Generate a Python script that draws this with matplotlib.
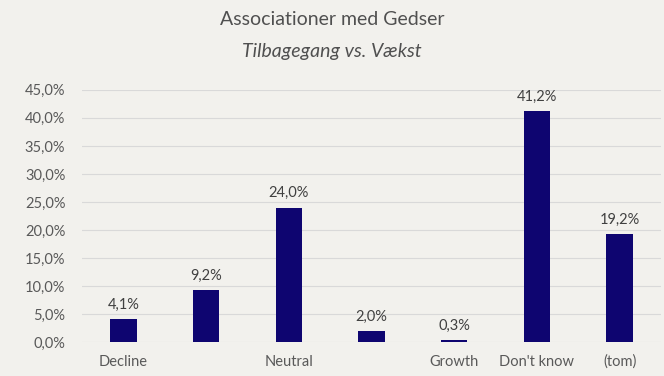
import matplotlib.pyplot as plt
from matplotlib.ticker import FuncFormatter

categories = ["Decline", "", "Neutral", "", "Growth", "Don't know", "(tom)"]
shares = [4.1, 9.2, 24.0, 2.0, 0.3, 41.2, 19.2]

BG = "#F2F1ED"
BAR = "#0E0570"
TXT = "#595959"

plt.rcParams["font.family"] = ["Lato", "DejaVu Sans"]

fig = plt.figure(figsize=(6.64, 3.76), dpi=100, facecolor=BG)
ax = fig.add_axes([0.1235, 0.0904, 0.872, 0.6706], facecolor=BG)

x = range(len(categories))
ax.bar(x, shares, width=0.32, color=BAR, zorder=3)

# value labels above bars
for xi, v in zip(x, shares):
    ax.text(xi, v + 1.3, f"{v:.1f}%".replace(".", ","), ha="center", va="bottom",
            fontsize=10.5, color="#404040")

ax.set_xlim(-0.5, len(categories) - 0.5)
ax.set_ylim(0, 45)
ax.set_yticks(range(0, 46, 5))
ax.yaxis.set_major_formatter(FuncFormatter(lambda v, _: f"{v:.1f}%".replace(".", ",")))
ax.set_xticks(list(x))
ax.set_xticklabels(categories)

ax.grid(axis="y", color="#D9D9D9", linewidth=0.8, zorder=0)
for s in ax.spines.values():
    s.set_visible(False)
ax.tick_params(axis="both", length=0, colors=TXT, labelsize=10.5)
ax.tick_params(axis="x", pad=9)
ax.tick_params(axis="y", pad=12)

fig.text(0.5, 0.947, "Associationer med Gedser", ha="center", va="center",
         fontsize=14, color="#505050")
fig.text(0.5, 0.862, "Tilbagegang vs. Vækst", ha="center", va="center",
         fontsize=14, color="#505050", style="italic")

fig.savefig("out.png", dpi=100, facecolor=BG)
